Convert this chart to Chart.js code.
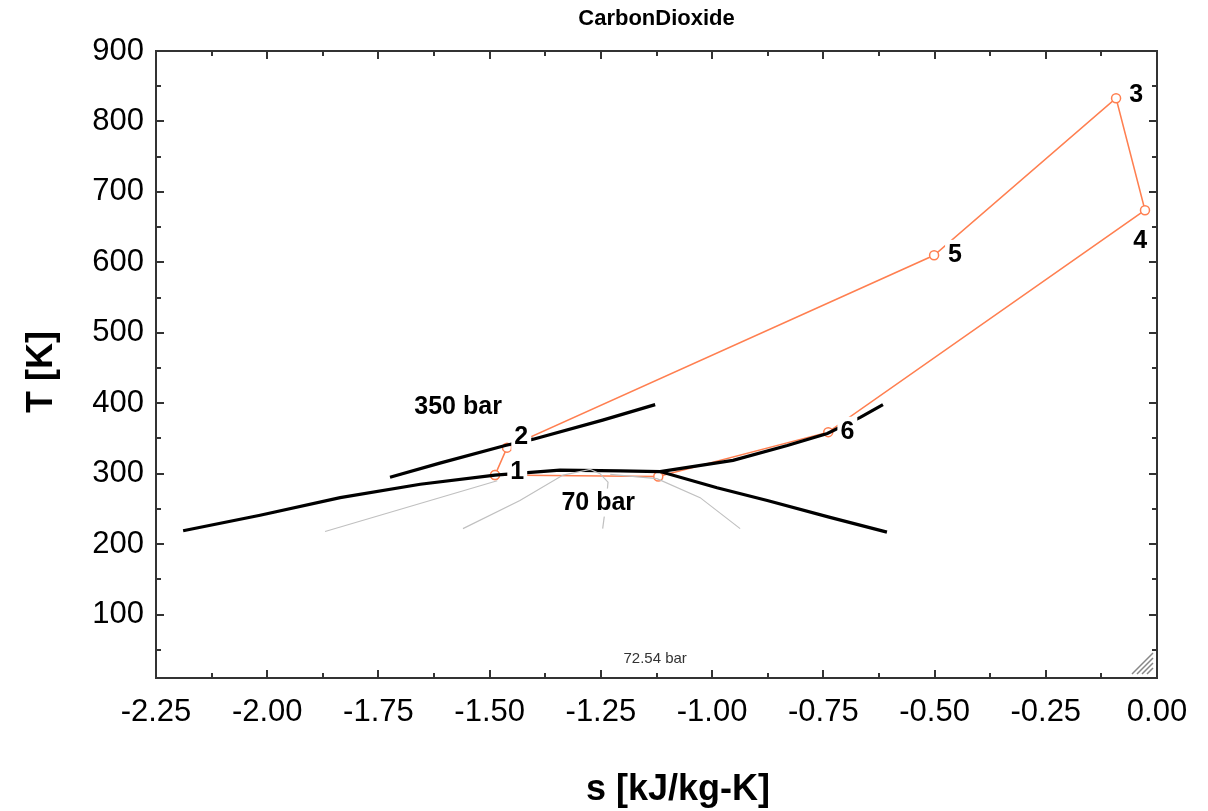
<!DOCTYPE html>
<html>
<head>
<meta charset="utf-8">
<script src="https://cdn.jsdelivr.net/npm/chart.js@4.4.0/dist/chart.umd.min.js"></script>
<style>
  body { margin: 0; background: #fff; }
  #wrap { width: 1208px; height: 811px; }
</style>
</head>
<body>
<div id="wrap"><canvas id="c"></canvas></div>
<script>
// axis ticks
const xTicks = [-2.25, -2.0, -1.75, -1.5, -1.25, -1.0, -0.75, -0.5, -0.25, 0.0];
const yTicks = [100, 200, 300, 400, 500, 600, 700, 800, 900];

// cycle states 1-2-5-3-4-6-7-1  (s in kJ/kg-K, T in K)
const cycleS = [-1.488, -1.461, -0.501, -0.092, -0.027, -0.739, -1.121, -1.488];
const cycleT = [298, 337, 610, 833, 674, 359, 296, 298];

// 70 bar isobar
const p70S = [-2.189, -2.016, -1.836, -1.656, -1.488, -1.342, -1.207, -1.117, -0.989, -0.876, -0.735, -0.607];
const p70T = [219, 241, 266, 285, 298, 305, 304, 303, 280, 262, 238, 217];
const p70GasS = [-1.117, -0.953, -0.831, -0.741, -0.667, -0.616];
const p70GasT = [303, 319, 340, 357, 380, 398];

// 350 bar isobar
const p350S = [-1.724, -1.612, -1.465, -1.402, -1.246, -1.128];
const p350T = [295, 315, 340, 349, 376, 398];

// thin grey lines
const grayAS = [-1.870, -1.483];
const grayAT = [218, 290];
const grayBS = [-1.560, -1.432, -1.335, -1.274, -1.252, -1.234, -1.238, -1.246];
const grayBT = [222, 262, 298, 306, 300, 288, 260, 222];
const grayCS = [-1.229, -1.124, -1.027, -0.937];
const grayCT = [299, 293, 266, 222];

// text labels placed in data units
const labelText = ['1', '2', '3', '4', '5', '6', '350 bar', '70 bar'];
const labelS = [-1.438, -1.429, -0.047, -0.038, -0.454, -0.696, -1.571, -1.256];
const labelT = [303, 353, 839, 631, 612, 361, 396, 259];

const pts = (xs, ys) => xs.map((v, i) => ({ x: v, y: ys[i] }));

const FONT = 'Arial, "Liberation Sans", sans-serif';
const ORANGE = '#ff7f50';

const decor = {
  id: 'decor',
  afterDatasetsDraw(chart) {
    const { ctx, chartArea: a, scales: { x, y } } = chart;
    ctx.save();

    // labels with white boxes
    ctx.textAlign = 'center';
    ctx.textBaseline = 'middle';
    ctx.font = 'bold 25px ' + FONT;
    labelText.forEach((t, i) => {
      const px = x.getPixelForValue(labelS[i]);
      const py = y.getPixelForValue(labelT[i]);
      const w = ctx.measureText(t).width;
      ctx.fillStyle = '#fff';
      ctx.fillRect(px - w / 2 - 3, py - 14, w + 6, 28);
      ctx.fillStyle = '#000';
      ctx.fillText(t, px, py + 1);
    });

    ctx.font = '15px ' + FONT;
    ctx.fillStyle = '#333';
    ctx.fillText('72.54 bar', x.getPixelForValue(-1.128), y.getPixelForValue(37));

    // frame
    ctx.strokeStyle = '#333';
    ctx.lineWidth = 2;
    ctx.strokeRect(a.left, a.top, a.width, a.height);

    // inward ticks on all sides
    ctx.beginPath();
    for (let v = -2.25; v <= 0.0001; v += 0.125) {
      const px = Math.round(x.getPixelForValue(v));
      const major = Math.abs(v * 4 - Math.round(v * 4)) < 1e-6;
      const len = major ? 8 : 5;
      ctx.moveTo(px, a.bottom); ctx.lineTo(px, a.bottom - len);
      ctx.moveTo(px, a.top); ctx.lineTo(px, a.top + len);
    }
    for (let v = 50; v <= 900; v += 50) {
      const py = Math.round(y.getPixelForValue(v));
      const len = v % 100 === 0 ? 8 : 5;
      ctx.moveTo(a.left, py); ctx.lineTo(a.left + len, py);
      ctx.moveTo(a.right, py); ctx.lineTo(a.right - len, py);
    }
    ctx.stroke();

    // resize grip
    ctx.strokeStyle = '#888';
    ctx.lineWidth = 1.5;
    ctx.beginPath();
    [6, 11, 16, 21].forEach(k => {
      ctx.moveTo(a.right - 4 - k, a.bottom - 4);
      ctx.lineTo(a.right - 4, a.bottom - 4 - k);
    });
    ctx.stroke();

    // titles
    ctx.fillStyle = '#000';
    ctx.font = 'bold 22px ' + FONT;
    ctx.fillText('CarbonDioxide', (a.left + a.right) / 2, 19);
    ctx.font = 'bold 36px ' + FONT;
    ctx.fillText('s [kJ/kg-K]', 678, 790);
    ctx.translate(42, 372);
    ctx.rotate(-Math.PI / 2);
    ctx.fillText('T [K]', 0, 0);
    ctx.restore();
  }
};

new Chart(document.getElementById('c'), {
  type: 'scatter',
  data: {
    datasets: [
      { data: pts(grayAS, grayAT), borderColor: '#c0c0c0', borderWidth: 1.2 },
      { data: pts(grayBS, grayBT), borderColor: '#c0c0c0', borderWidth: 1.2 },
      { data: pts(grayCS, grayCT), borderColor: '#c0c0c0', borderWidth: 1.2 },
      { data: pts(p70S, p70T), borderColor: '#000', borderWidth: 3.2 },
      { data: pts(p70GasS, p70GasT), borderColor: '#000', borderWidth: 3.2 },
      { data: pts(p350S, p350T), borderColor: '#000', borderWidth: 3.2 },
      {
        data: pts(cycleS, cycleT), borderColor: ORANGE, borderWidth: 1.5,
        pointRadius: 4.5, pointBackgroundColor: '#fff', pointBorderColor: ORANGE, pointBorderWidth: 1.5
      }
    ].map(d => Object.assign({ showLine: true, pointRadius: 0, tension: 0 }, d))
  },
  options: {
    responsive: true,
    maintainAspectRatio: false,
    animation: false,
    layout: { padding: { top: 51, right: 51, left: 0, bottom: 0 } },
    plugins: { legend: { display: false }, tooltip: { enabled: false } },
    scales: {
      x: {
        min: -2.25, max: 0,
        afterBuildTicks: s => { s.ticks = xTicks.map(v => ({ value: v })); },
        afterFit: s => { s.height = 133; },
        grid: { display: false },
        border: { display: false },
        ticks: {
          color: '#000', padding: 8, maxRotation: 0,
          font: { family: FONT, size: 31 },
          callback: v => v.toFixed(2)
        }
      },
      y: {
        min: 10, max: 900,
        afterBuildTicks: s => { s.ticks = yTicks.map(v => ({ value: v })); },
        afterFit: s => { s.width = 156; },
        grid: { display: false },
        border: { display: false },
        ticks: {
          color: '#000', padding: 4,
          font: { family: FONT, size: 31 }
        }
      }
    }
  },
  plugins: [decor]
});
</script>
</body>
</html>
